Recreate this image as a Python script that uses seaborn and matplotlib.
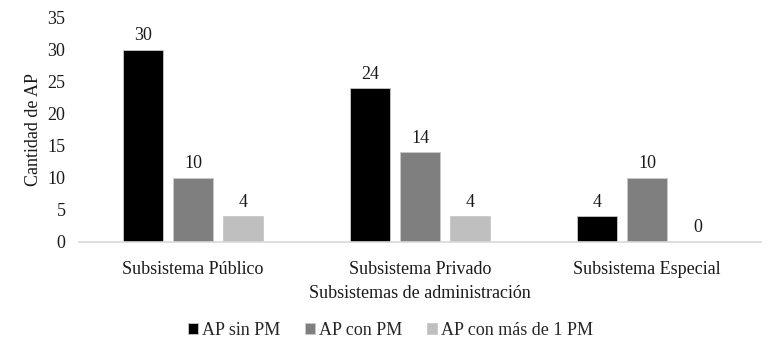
import pandas as pd
import matplotlib
matplotlib.use("Agg")
import matplotlib.pyplot as plt
import seaborn as sns
from matplotlib.ticker import FixedLocator

# Data
categorias = ["Subsistema Público", "Subsistema Privado", "Subsistema Especial"]
series = ["AP sin PM", "AP con PM", "AP con más de 1 PM"]
ap_sin_pm = [30, 24, 4]
ap_con_pm = [10, 14, 10]
ap_mas_pm = [4, 4, 0]
colores = ["#000000", "#7f7f7f", "#bfbfbf"]

df = pd.DataFrame({
    "categoria": categorias * 3,
    "serie": [series[0]] * 3 + [series[1]] * 3 + [series[2]] * 3,
    "valor": ap_sin_pm + ap_con_pm + ap_mas_pm,
})

sns.set_style("white")
plt.rcParams["font.family"] = ["Liberation Serif", "DejaVu Serif"]
fs = 13
txt = "#1a1a1a"

fig = plt.figure(figsize=(7.78, 3.6), dpi=100)
ax = fig.add_axes([0.102, 0.328, 0.876, 0.622])

sns.barplot(data=df, x="categoria", y="valor", hue="serie", order=categorias,
            hue_order=series, palette=colores, width=0.661, gap=0.2,
            linewidth=0.6, edgecolor="#c8c8c8", ax=ax, legend=True)

for cont in ax.containers:
    ax.bar_label(cont, fmt="%d", padding=4, fontsize=fs, color=txt)

ax.set_xlim(-0.5, 2.5)
ax.set_ylim(0, 35)
ax.set_yticks(range(0, 36, 5))
ax.tick_params(axis="y", length=0, labelsize=fs, pad=10, colors=txt)
ax.tick_params(axis="x", which="major", length=0, labelsize=fs, pad=14,
               colors=txt)
ax.xaxis.set_minor_locator(FixedLocator([-0.5, 0.5, 1.5, 2.5]))
ax.tick_params(axis="x", which="minor", length=5, width=1, color="#d9d9d9")

ax.set_xlabel("Subsistemas de administración", fontsize=fs, labelpad=5,
              color=txt)
ax.set_ylabel("Cantidad de AP", fontsize=fs, labelpad=4, color=txt)

for s in ["left", "right", "top"]:
    ax.spines[s].set_visible(False)
ax.spines["bottom"].set_color("#d9d9d9")
ax.spines["bottom"].set_linewidth(1.2)

handles, labels = ax.get_legend_handles_labels()
ax.legend_.remove()
fig.legend(handles, labels, loc="center", bbox_to_anchor=(0.502, 0.083),
           ncol=3, frameon=False, fontsize=fs, handlelength=0.55,
           handleheight=0.55, handletextpad=0.25, columnspacing=1.35)

fig.savefig("out.png", dpi=100)
